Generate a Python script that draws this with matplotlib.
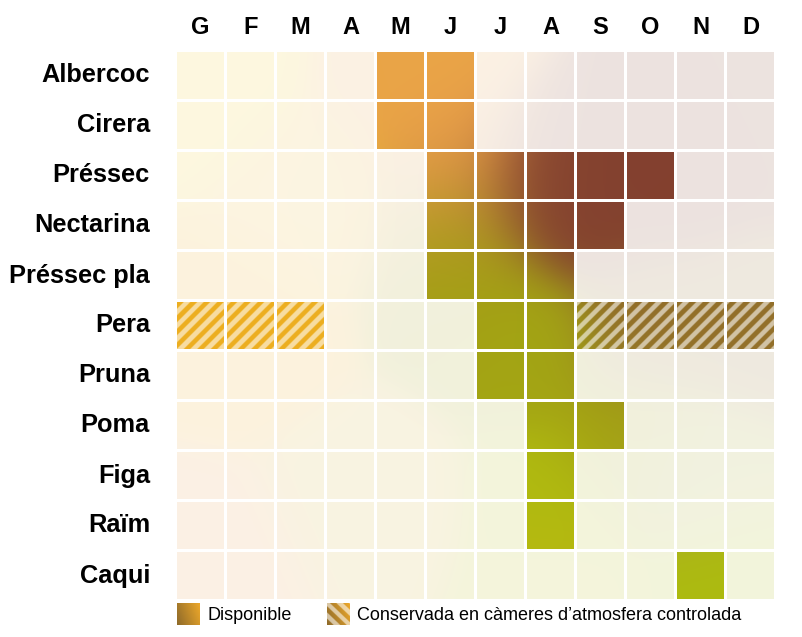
import numpy as np
import matplotlib.pyplot as plt
from matplotlib.path import Path
from matplotlib.transforms import Affine2D
from matplotlib.colors import to_rgb

plt.rcParams['font.family'] = ['Liberation Sans', 'DejaVu Sans']

months = ['G', 'F', 'M', 'A', 'M', 'J', 'J', 'A', 'S', 'O', 'N', 'D']
fruits = ['Albercoc', 'Cirera', 'Préssec', 'Nectarina', 'Préssec pla', 'Pera',
          'Pruna', 'Poma', 'Figa', 'Raïm', 'Caqui']
# 0 = no, 1 = disponible, 2 = conservada en atmosfera controlada
status = [
    [0, 0, 0, 0, 1, 1, 0, 0, 0, 0, 0, 0],  # Albercoc
    [0, 0, 0, 0, 1, 1, 0, 0, 0, 0, 0, 0],  # Cirera
    [0, 0, 0, 0, 0, 1, 1, 1, 1, 1, 0, 0],  # Préssec
    [0, 0, 0, 0, 0, 1, 1, 1, 1, 0, 0, 0],  # Nectarina
    [0, 0, 0, 0, 0, 1, 1, 1, 0, 0, 0, 0],  # Préssec pla
    [2, 2, 2, 0, 0, 0, 1, 1, 2, 2, 2, 2],  # Pera
    [0, 0, 0, 0, 0, 0, 1, 1, 0, 0, 0, 0],  # Pruna
    [0, 0, 0, 0, 0, 0, 0, 1, 1, 0, 0, 0],  # Poma
    [0, 0, 0, 0, 0, 0, 0, 1, 0, 0, 0, 0],  # Figa
    [0, 0, 0, 0, 0, 0, 0, 1, 0, 0, 0, 0],  # Raïm
    [0, 0, 0, 0, 0, 0, 0, 0, 0, 0, 1, 0],  # Caqui
]
legend_labels = ['Disponible', 'Conservada en càmeres d’atmosfera controlada']

# colour field anchors (column, row, colour)
anchors = [
    (0.0, 0.0, '#F2CC2A'), (4.3, 0.3, '#EAA547'), (5.0, 1.8, '#E4984A'),
    (6.8, 2.3, '#874530'), (8.0, 2.6, '#83412F'), (9.5, 2.0, '#83402F'),
    (11.5, 1.0, '#85452F'), (5.0, 3.1, '#B09A22'),
    (9.0, 5.0, '#93702A'), (11.0, 5.0, '#93702A'), (5.3, 4.3, '#A3A014'),
    (6.5, 5.5, '#A3A514'), (8.5, 7.3, '#A3A014'), (7.0, 8.5, '#B0BB10'),
    (7.0, 10.0, '#B8B810'), (10.5, 10.0, '#ADBB10'), (1.0, 5.0, '#EDAE20'),
    (0.0, 10.0, '#E9A04C'), (3.5, 8.5, '#D6B03A'), (2.5, 2.5, '#EBB838'),
    (10.0, 8.0, '#A8A830'),
]
sigma = 0.85
light_alpha = 0.15
stripe_alpha = 0.42
stripe_period = 0.27
half = 0.47

ncol, nrow = len(months), len(fruits)
xs = np.linspace(-0.5, ncol - 0.5, 1200)
ys = np.linspace(-0.5, nrow - 0.5, 1100)
X, Y = np.meshgrid(xs, ys)
num = np.zeros(X.shape + (3,))
den = np.zeros(X.shape)
for ax_, ay_, c in anchors:
    w = np.exp(-((X - ax_) ** 2 + (Y - ay_) ** 2) / (2 * sigma ** 2))
    num += w[..., None] * np.array(to_rgb(c))
    den += w
dark = num / den[..., None]
light = 1 - light_alpha * (1 - dark)
stripe = (np.mod((X + Y) / stripe_period, 1) < 0.5)[..., None]
hatch = np.where(stripe, dark, 1 - stripe_alpha * (1 - dark))

fig = plt.figure(figsize=(8.02, 6.37), dpi=100)
ax = fig.add_axes([175.5 / 802, (637 - 600.5) / 637, 600 / 802, 550 / 637])
ext = (-0.5, ncol - 0.5, nrow - 0.5, -0.5)


def cells_path(values):
    rects = []
    for r, row in enumerate(status):
        for c, s in enumerate(row):
            if s in values:
                rects.append(Path.unit_rectangle().transformed(
                    Affine2D().scale(2 * half).translate(c - half, r - half)))
    return Path.make_compound_path(*rects)


for img, vals in [(light, (0,)), (dark, (1,)), (hatch, (2,))]:
    im = ax.imshow(img, extent=ext, origin='upper', interpolation='bilinear')
    im.set_clip_path(cells_path(vals), ax.transData)

ax.set_xlim(-0.5, ncol - 0.5)
ax.set_ylim(nrow - 0.5, -0.5)
ax.axis('off')

for c, m in enumerate(months):
    ax.text(c, -0.95, m, ha='center', va='center', fontsize=17, fontweight='bold')
for r, f in enumerate(fruits):
    ax.text(-1.01, r, f, ha='right', va='center', fontsize=18.3, fontweight='bold')

# legend swatches
sx = np.linspace(0, 1, 60)
SX, SY = np.meshgrid(sx, sx)
t = np.clip(0.75 * SX + 0.25 * (1 - SY), 0, 1)[..., None]
c0 = np.array(to_rgb('#8E6A2A'))
c1 = np.array(to_rgb('#EDA82A'))
grad = c0 * (1 - t) + c1 * t
sw1 = fig.add_axes([177 / 802, (637 - 625) / 637, 23 / 802, 22 / 637])
sw1.imshow(grad, aspect='auto', interpolation='bilinear')
sw1.axis('off')
st = (np.mod((SX + (1 - SY)) * 23 / 13, 1) < 0.5)[..., None]
hgrad = np.where(st, grad, 1 - stripe_alpha * (1 - grad))
sw2 = fig.add_axes([327 / 802, (637 - 625) / 637, 23 / 802, 22 / 637])
sw2.imshow(hgrad, aspect='auto', interpolation='bilinear')
sw2.axis('off')
fig.text(207 / 802, 1 - 615 / 637, legend_labels[0], va='center', fontsize=13)
fig.text(357 / 802, 1 - 615 / 637, legend_labels[1], va='center', fontsize=13)

fig.savefig('out.png', dpi=100)
